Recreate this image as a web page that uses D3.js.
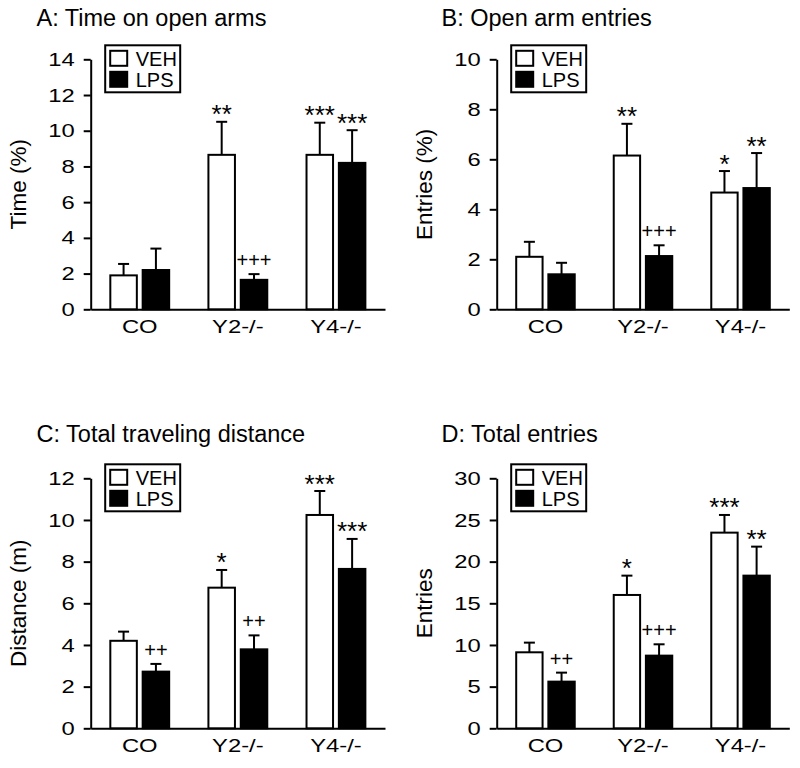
<!DOCTYPE html>
<html>
<head>
<meta charset="utf-8">
<script src="https://cdn.jsdelivr.net/npm/d3@7"></script>
<style>
  html, body { margin: 0; padding: 0; background: #fff; }
  svg { display: block; font-family: "Liberation Sans", Arial, Helvetica, sans-serif; }
</style>
</head>
<body>
<svg id="chart" width="800" height="768"></svg>
<script>
// ---------- data ----------
const categories = ["CO", "Y2-/-", "Y4-/-"];
const seriesNames = ["VEH", "LPS"];

// Panel A: Time on open arms (%)
const timeVEH = [1.9, 8.65, 8.65];
const timeVEHsem = [0.64, 1.85, 1.8];
const timeLPS = [2.2, 1.65, 8.2];
const timeLPSsem = [1.2, 0.32, 1.83];
const timeVEHsig = ["", "**", "***"];
const timeLPSsig = ["", "+++", "***"];
const timeTicks = [0, 2, 4, 6, 8, 10, 12, 14];

// Panel B: Open arm entries (%)
const openVEH = [2.1, 6.15, 4.67];
const openVEHsem = [0.6, 1.27, 0.86];
const openLPS = [1.4, 2.13, 4.85];
const openLPSsem = [0.46, 0.43, 1.4];
const openVEHsig = ["", "**", "*"];
const openLPSsig = ["", "+++", "**"];
const openTicks = [0, 2, 4, 6, 8, 10];

// Panel C: Total traveling distance (m)
const distVEH = [4.2, 6.75, 10.24];
const distVEHsem = [0.44, 0.85, 1.15];
const distLPS = [2.72, 3.79, 7.65];
const distLPSsem = [0.37, 0.67, 1.44];
const distVEHsig = ["", "*", "***"];
const distLPSsig = ["++", "++", "***"];
const distTicks = [0, 2, 4, 6, 8, 10, 12];

// Panel D: Total entries
const totVEH = [9.12, 16.0, 23.48];
const totVEHsem = [1.16, 2.32, 2.12];
const totLPS = [5.6, 8.72, 18.32];
const totLPSsem = [1.08, 1.36, 3.48];
const totVEHsig = ["", "*", "***"];
const totLPSsig = ["++", "+++", "**"];
const totTicks = [0, 5, 10, 15, 20, 25, 30];

const titles = ["A: Time on open arms", "B: Open arm entries", "C: Total traveling distance", "D: Total entries"];
const yLabels = ["Time (%)", "Entries (%)", "Distance (m)", "Entries"];

// ---------- build panel tables ----------
function rows(veh, vehSem, vehSig, lps, lpsSem, lpsSig) {
  return categories.map((c, i) => ({
    cat: c,
    bars: [
      { s: "VEH", v: veh[i], e: vehSem[i], sig: vehSig[i] },
      { s: "LPS", v: lps[i], e: lpsSem[i], sig: lpsSig[i] }
    ]
  }));
}

const panels = [
  { title: titles[0], ylabel: yLabels[0], ticks: timeTicks,
    data: rows(timeVEH, timeVEHsem, timeVEHsig, timeLPS, timeLPSsem, timeLPSsig),
    left: 90.7, right: 385, top: 59.3, bottom: 309.3, tx: 36.5, ty: 26 },
  { title: titles[1], ylabel: yLabels[1], ticks: openTicks,
    data: rows(openVEH, openVEHsem, openVEHsig, openLPS, openLPSsem, openLPSsig),
    left: 496.7, right: 789.3, top: 59.3, bottom: 309.3, tx: 441.5, ty: 26 },
  { title: titles[2], ylabel: yLabels[2], ticks: distTicks,
    data: rows(distVEH, distVEHsem, distVEHsig, distLPS, distLPSsem, distLPSsig),
    left: 90.7, right: 385, top: 478.3, bottom: 728.3, tx: 36.5, ty: 442 },
  { title: titles[3], ylabel: yLabels[3], ticks: totTicks,
    data: rows(totVEH, totVEHsem, totVEHsig, totLPS, totLPSsem, totLPSsig),
    left: 496.7, right: 789.3, top: 478.3, bottom: 728.3, tx: 441.5, ty: 442 }
];

const svg = d3.select("#chart");
const SW = 2;
const TICK_STRETCH = 1.25;

function stretch(sel, factor) {
  sel.each(function () {
    const len = this.getComputedTextLength();
    d3.select(this).attr("textLength", len * factor).attr("lengthAdjust", "spacingAndGlyphs");
  });
}

panels.forEach(p => {
  const g = svg.append("g");
  const yMax = p.ticks[p.ticks.length - 1];
  const y = d3.scaleLinear().domain([0, yMax]).range([p.bottom, p.top]);
  const x0 = d3.scaleBand().domain(categories).range([p.left, p.right]).padding(0);
  const bw = x0.bandwidth();
  const x1 = d3.scaleBand().domain(seriesNames).range([0.2 * bw, 0.8 * bw]).paddingInner(0.18);

  // title
  g.append("text").attr("x", p.tx).attr("y", p.ty)
    .attr("font-size", 23.5).attr("fill", "#000").text(p.title);

  // y axis
  const yAxis = d3.axisLeft(y).tickValues(p.ticks).tickSize(7).tickSizeOuter(0).tickPadding(9);
  const ya = g.append("g").attr("transform", `translate(${p.left},0)`).call(yAxis);
  ya.attr("font-family", null);
  ya.select(".domain").attr("stroke", "#000").attr("stroke-width", SW);
  ya.selectAll(".tick line").attr("stroke", "#000").attr("stroke-width", SW);
  ya.selectAll(".tick text").attr("font-size", 19).attr("fill", "#000");
  stretch(ya.selectAll(".tick text"), TICK_STRETCH);

  // x axis
  const xAxis = d3.axisBottom(x0).tickSize(0).tickSizeOuter(0).tickPadding(10.5);
  const xa = g.append("g").attr("transform", `translate(0,${p.bottom})`).call(xAxis);
  xa.attr("font-family", null);
  xa.select(".domain").attr("stroke", "#000").attr("stroke-width", SW);
  xa.selectAll(".tick text").attr("font-size", 19).attr("fill", "#000");
  stretch(xa.selectAll(".tick text"), TICK_STRETCH);

  // y label
  g.append("text")
    .attr("transform", `translate(${p.left - 65},${(p.top + p.bottom) / 2}) rotate(-90)`)
    .attr("text-anchor", "middle").attr("font-size", 22.5).attr("fill", "#000")
    .text(p.ylabel);

  // bars
  const groups = g.selectAll(".grp").data(p.data).enter().append("g")
    .attr("transform", d => `translate(${x0(d.cat)},0)`);

  const bar = groups.selectAll(".bar").data(d => d.bars).enter().append("g");

  // error bars (upper only)
  bar.append("line")
    .attr("x1", d => x1(d.s) + x1.bandwidth() / 2)
    .attr("x2", d => x1(d.s) + x1.bandwidth() / 2)
    .attr("y1", d => y(d.v)).attr("y2", d => y(d.v + d.e))
    .attr("stroke", "#000").attr("stroke-width", SW);
  bar.append("line")
    .attr("x1", d => x1(d.s) + x1.bandwidth() / 2 - 5.5)
    .attr("x2", d => x1(d.s) + x1.bandwidth() / 2 + 5.5)
    .attr("y1", d => y(d.v + d.e)).attr("y2", d => y(d.v + d.e))
    .attr("stroke", "#000").attr("stroke-width", SW);

  bar.append("rect")
    .attr("x", d => x1(d.s)).attr("width", x1.bandwidth())
    .attr("y", d => y(d.v)).attr("height", d => y(0) - y(d.v))
    .attr("fill", d => d.s === "VEH" ? "#fff" : "#000")
    .attr("stroke", "#000").attr("stroke-width", SW);

  // significance marks
  bar.filter(d => d.sig && d.sig[0] === "*").append("text")
    .attr("x", d => x1(d.s) + x1.bandwidth() / 2)
    .attr("y", d => y(d.v + d.e) + 1.5)
    .attr("text-anchor", "middle").attr("font-size", 26).attr("fill", "#000")
    .text(d => d.sig);
  bar.filter(d => d.sig && d.sig[0] === "+").append("text")
    .attr("x", d => x1(d.s) + x1.bandwidth() / 2)
    .attr("y", d => y(d.v + d.e) - 7)
    .attr("text-anchor", "middle").attr("font-size", 20).attr("fill", "#000")
    .text(d => d.sig);

  // legend
  const lx = p.left + 14.5, ly = p.top - 14;
  const lg = g.append("g").attr("transform", `translate(${lx},${ly})`);
  lg.append("rect").attr("x", 0).attr("y", 0).attr("width", 75).attr("height", 47)
    .attr("fill", "#fff").attr("stroke", "#000").attr("stroke-width", SW);
  seriesNames.forEach((s, i) => {
    lg.append("rect").attr("x", 5).attr("y", 5.5 + i * 21).attr("width", 17).attr("height", 15)
      .attr("fill", s === "VEH" ? "#fff" : "#000").attr("stroke", "#000").attr("stroke-width", SW);
    lg.append("text").attr("x", 30.5).attr("y", 21 + i * 20.5)
      .attr("font-size", 20).attr("fill", "#000").text(s);
  });
});
</script>
</body>
</html>
